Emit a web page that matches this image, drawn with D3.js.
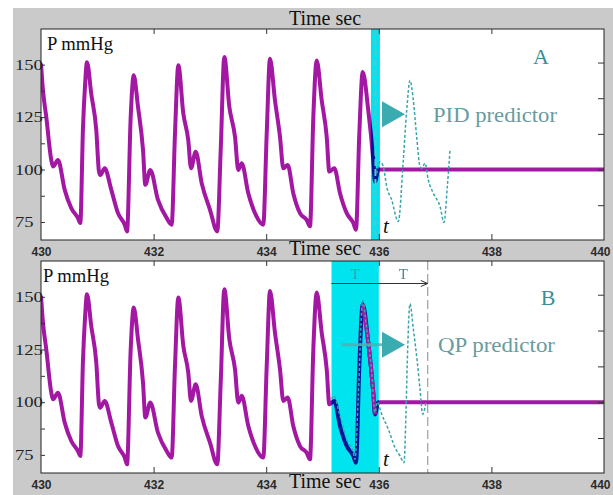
<!DOCTYPE html>
<html><head><meta charset="utf-8">
<script src="https://cdn.jsdelivr.net/npm/d3@7"></script>
<style>
html,body{margin:0;padding:0;background:#fff;}
svg{display:block;}
</style></head>
<body>
<svg id="chart" width="613" height="495"></svg>
<script>
// ---- data ----
const measuredTime = [430.000,430.035,430.094,430.183,430.213,430.302,430.421,430.538,430.657,430.698,430.746,430.782,430.817,430.893,430.982,431.030,431.053,431.131,431.249,431.368,431.487,431.528,431.593,431.647,431.723,431.812,431.853,431.941,432.078,432.233,432.321,432.380,432.439,432.528,432.616,432.664,432.748,432.854,433.002,433.131,433.192,433.256,433.345,433.446,433.504,433.565,433.682,433.801,433.948,434.009,434.067,434.156,434.245,434.304,434.382,434.481,434.600,434.719,434.778,434.837,434.897,434.986,435.075,435.121,435.210,435.311,435.430,435.547,435.595,435.654,435.714,435.813,435.902,435.932,435.991,440.000];
const measuredP = [150.5,137.8,125.0,104.5,101.4,104.5,90.3,81.6,76.8,74.5,120.0,140.0,151.2,136.0,118.8,99.0,97.4,100.6,90.3,79.2,73.7,70.5,125.0,144.9,129.9,109.3,92.7,99.8,85.5,76.8,73.7,117.2,149.7,126.7,114.0,100.6,108.5,93.5,80.8,70.5,109.3,153.6,129.9,115.6,99.8,103.0,88.7,79.2,73.7,117.0,152.8,133.0,115.6,100.6,102.2,88.7,79.2,76.0,72.9,125.0,152.0,133.0,115.6,99.0,100.6,88.7,79.2,74.5,71.3,117.2,146.5,128.3,104.5,94.2,100.0,100.0];

const pidTime = [435.963,436.021,436.080,436.140,436.229,436.346,436.435,436.496,436.554,436.613,436.673,436.732,436.762,436.821,436.879,436.968,437.087,437.158,437.217,437.265];
const pidP = [98.0,103.7,101.4,91.9,85.5,75.2,104.5,128.3,142.5,133.0,115.6,101.4,100.6,103.0,95.0,88.7,82.4,74.8,91.9,109.3];

const qpTime = [435.163,435.204,435.311,435.430,435.547,435.577,435.636,435.714,435.785,435.874,435.932,435.973,436.051,436.169,436.288,436.377,436.448,436.483,436.506,436.554,436.613,436.684,436.732,436.780,436.838];
const qpP = [101.4,103.0,93.5,82.4,76.0,72.9,103.0,148.3,134.8,114.2,95.1,100.0,94.3,87.2,78.4,74.5,71.3,95.1,119.0,146.7,134.8,119.0,106.2,94.3,100.0];

const xTickLabels = [430,432,434,436,438,440];
const xInnerTicks = [432,434,436,438];
const yTickLabels = [75,100,125,150];
const yLeftTicks = [75,87.5,100,112.5,125,137.5,150];
const yRightTicks = [83,100,117,134,151];

const bandA = [435.86, 436.02];       // sampling window, panel A
const bandB = [435.16, 436.0];        // window T, panel B
const horizonB = 436.87;              // end of predicted T

// ---- drawing ----
const svg = d3.select("#chart");
const W = 613, H = 495;
svg.append("rect").attr("x",13).attr("y",8).attr("width",W-13).attr("height",H-8).attr("fill","#cacaca");

const x = d3.scaleLinear().domain([430,440]).range([41,604]);
const panels = [
  {name:"A", top:29, bottom:240, label:"PID predictor", pred:[pidTime,pidP]},
  {name:"B", top:261, bottom:473, label:"QP predictor", pred:[qpTime,qpP]}
];
const PURPLE = "#a318a3", CYAN = "#00e4ef", TEAL = "#3aa4ac";
const serif = "'Liberation Serif','Times New Roman',serif";
const sans = "'Liberation Sans',Arial,sans-serif";

panels.forEach((p, i) => {
  const y = d3.scaleLinear().domain([66.4,167]).range([p.bottom, p.top]);
  const g = svg.append("g");
  const clipId = "clip"+i;
  svg.append("clipPath").attr("id",clipId).append("rect")
    .attr("x",x(430)).attr("y",p.top).attr("width",x(440)-x(430)).attr("height",p.bottom-p.top);
  g.append("rect").attr("x",x(430)).attr("y",p.top).attr("width",x(440)-x(430)).attr("height",p.bottom-p.top).attr("fill","#fff");

  const plot = g.append("g").attr("clip-path",`url(#${clipId})`);
  const line = d3.line().x(d=>x(d[0])).y(d=>y(d[1])).curve(d3.curveMonotoneX);
  const meas = measuredTime.map((t,k)=>[t,measuredP[k]]);

  // measured pressure
  plot.append("path").datum(meas).attr("d",line).attr("fill","none")
    .attr("stroke",PURPLE).attr("stroke-width",4).attr("stroke-linejoin","round");

  if (p.name==="A") {
    plot.append("rect").attr("x",x(bandA[0])).attr("y",p.top).attr("width",x(bandA[1])-x(bandA[0]))
      .attr("height",p.bottom-p.top).attr("fill",CYAN).style("mix-blend-mode","multiply");
    const mid = (bandA[0]+bandA[1])/2;
    plot.append("line").attr("x1",x(mid)).attr("x2",x(mid)).attr("y1",p.top).attr("y2",p.bottom)
      .attr("stroke","#5cc4ca").attr("stroke-width",2).attr("stroke-dasharray","7,3");
  } else {
    plot.append("rect").attr("x",x(bandB[0])).attr("y",p.top).attr("width",x(bandB[1])-x(bandB[0]))
      .attr("height",p.bottom-p.top).attr("fill",CYAN).style("mix-blend-mode","multiply");
    // descending part of last beat stays purple on top of the band
    plot.append("path").datum(meas.filter(d=>d[0]>=435.714 && d[0]<=435.95)).attr("d",line).attr("fill","none")
      .attr("stroke",PURPLE).attr("stroke-width",4).attr("stroke-linejoin","round");
    plot.append("line").attr("x1",x(horizonB)).attr("x2",x(horizonB)).attr("y1",p.top).attr("y2",p.bottom)
      .attr("stroke","#8a8a8a").attr("stroke-width",1).attr("stroke-dasharray","9,4");
    // T arrow
    const ya = p.top+22.5;
    plot.append("line").attr("x1",x(bandB[0])).attr("x2",x(horizonB)).attr("y1",ya).attr("y2",ya)
      .attr("stroke","#333").attr("stroke-width",1);
    plot.append("path").attr("d",`M${x(horizonB)-7},${ya-3}L${x(horizonB)},${ya}L${x(horizonB)-7},${ya+3}`)
      .attr("fill","none").attr("stroke","#333").attr("stroke-width",1);
    plot.append("text").attr("x",(x(bandB[0])+x(bandB[1]))/2).attr("y",p.top+18).attr("text-anchor","middle")
      .attr("font-family",serif).attr("font-size",15).attr("fill","#3e9aa2").text("T");
    plot.append("text").attr("x",(x(bandB[1])+x(horizonB))/2).attr("y",p.top+18).attr("text-anchor","middle")
      .attr("font-family",serif).attr("font-size",15).attr("fill","#4a8a8e").text("T");
  }

  // prediction (dashed)
  const pred = p.pred[0].map((t,k)=>[t,p.pred[1][k]]);
  plot.append("path").datum(pred).attr("d",line).attr("fill","none")
    .attr("stroke",TEAL).attr("stroke-width",1.5).attr("stroke-dasharray","3,2");

  // teal arrow
  const yArr = p.name==="A" ? y(126.3) : y(127.2);
  if (p.name==="B") {
    plot.append("line").attr("x1",342).attr("x2",383).attr("y1",yArr).attr("y2",yArr)
      .attr("stroke","#4fb0b5").attr("stroke-width",3).attr("opacity",0.85);
  }
  plot.append("path").attr("d",`M382,${yArr-13}L405,${yArr}L382,${yArr+13}Z`).attr("fill","#3aabb1");

  // texts in plot
  g.append("text").attr("x",p.name==="A"?47:43).attr("y",p.top+21).attr("font-family",serif)
    .attr("font-size",18).attr("fill","#111").attr("textLength",66).attr("lengthAdjust","spacingAndGlyphs").text("P mmHg");
  g.append("text").attr("x",p.name==="A"?541:548).attr("y",p.name==="A"?p.top+35:p.top+44).attr("text-anchor","middle")
    .attr("font-family",serif).attr("font-size",22).attr("fill","#3b8e96").text(p.name);
  g.append("text").attr("x",p.name==="A"?433:438).attr("y",yArr+7.5).attr("font-family",serif)
    .attr("font-size",21).attr("fill","#679c9e").attr("textLength",p.name==="A"?124:117).attr("lengthAdjust","spacingAndGlyphs").text(p.label);
  g.append("text").attr("x",383).attr("y",p.bottom-7).attr("font-family",serif).attr("font-style","italic")
    .attr("font-size",21).attr("fill","#111").text("t");

  // frame
  g.append("rect").attr("x",x(430)).attr("y",p.top).attr("width",x(440)-x(430)).attr("height",p.bottom-p.top)
    .attr("fill","none").attr("stroke","#222").attr("stroke-width",1);

  // ticks through axes
  const styleAxis = s => { s.select(".domain").remove(); s.selectAll(".tick line").attr("stroke","#333"); s.selectAll("text").remove(); };
  g.append("g").attr("transform",`translate(${x(430)},0)`)
    .call(d3.axisLeft(y).tickValues(yLeftTicks).tickSize(-4)).call(styleAxis);
  g.append("g").attr("transform",`translate(${x(440)},0)`)
    .call(d3.axisRight(y).tickValues(yRightTicks).tickSize(-6)).call(styleAxis);
  g.append("g").attr("transform",`translate(0,${p.top})`)
    .call(d3.axisTop(x).tickValues(xInnerTicks).tickSize(-5)).call(styleAxis);
  g.append("g").attr("transform",`translate(0,${p.bottom})`)
    .call(d3.axisBottom(x).tickValues(xInnerTicks).tickSize(-6)).call(styleAxis);

  // y labels (left aligned)
  yTickLabels.forEach(v=>{
    g.append("text").attr("x",15).attr("y",y(v)+5).attr("font-family",serif).attr("font-size",15)
      .attr("fill","#222").attr("textLength",String(v).length*9.3).attr("lengthAdjust","spacingAndGlyphs").text(v);
  });
  // x labels below panel
  const xl = g.append("g").attr("transform",`translate(0,${p.bottom+3})`)
    .call(d3.axisBottom(x).tickValues(xTickLabels).tickSize(0).tickPadding(4));
  xl.select(".domain").remove();
  xl.selectAll("text").attr("font-family",sans).attr("font-size",12).attr("font-weight","bold").attr("fill","#2a2a2a")
    .attr("x",d=>d===440?-4:0);
  // Time sec label
  svg.append("text").attr("x",325).attr("y",p.bottom+15).attr("text-anchor","middle")
    .attr("font-family",serif).attr("font-size",20).attr("fill","#111").text("Time sec");
});
svg.append("text").attr("x",325).attr("y",25).attr("text-anchor","middle")
  .attr("font-family",serif).attr("font-size",20).attr("fill","#111").text("Time sec");
</script>
</body></html>
